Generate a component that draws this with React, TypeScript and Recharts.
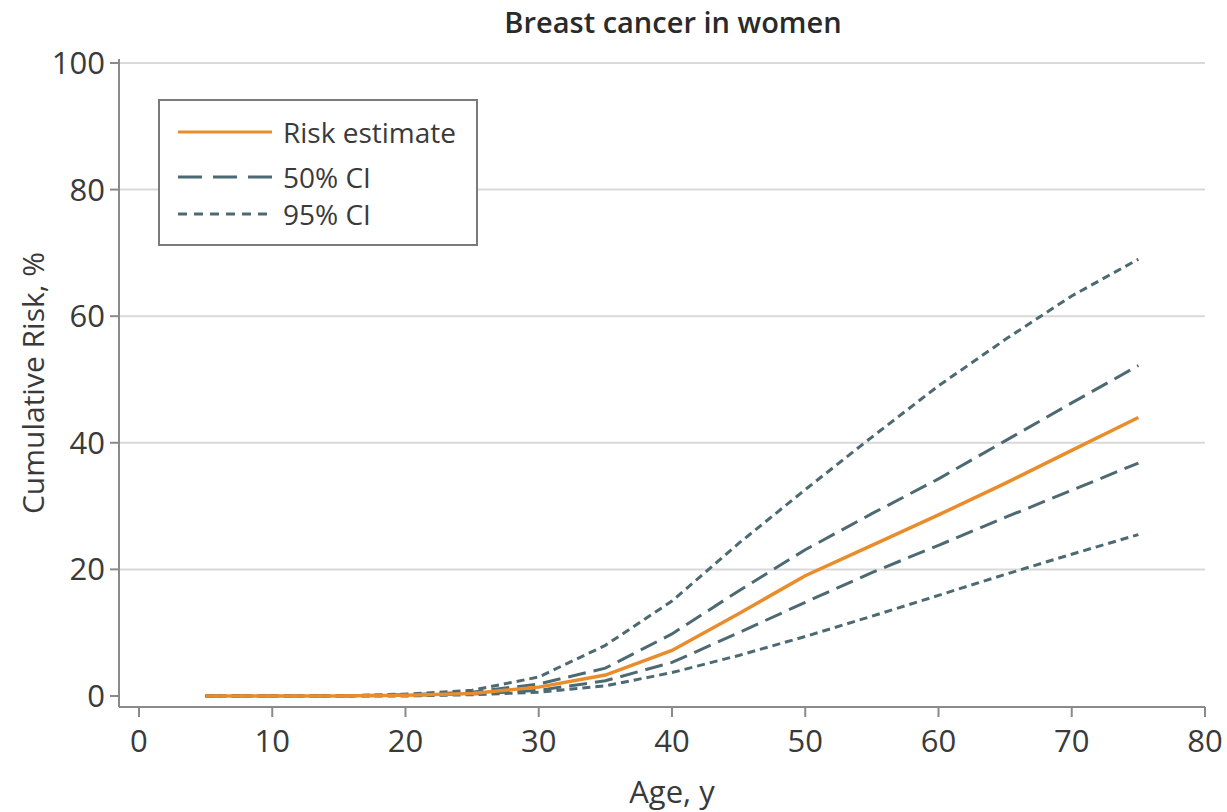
import React from 'react';
import { LineChart, Line, XAxis, YAxis, CartesianGrid, Legend, Label } from 'recharts';

const ages = [5, 10, 15, 20, 25, 30, 35, 40, 45, 50, 55, 60, 65, 70, 75];
const riskEstimate = [0, 0, 0, 0.1, 0.4, 1.4, 3.3, 7.2, 13.0, 19.0, 23.8, 28.6, 33.6, 38.8, 44.0];
const ci50Upper = [0, 0, 0, 0.2, 0.6, 1.9, 4.4, 9.8, 16.6, 23.1, 28.8, 34.3, 40.3, 46.3, 52.2];
const ci50Lower = [0, 0, 0, 0.1, 0.3, 0.9, 2.4, 5.3, 10.0, 14.8, 19.5, 23.8, 28.2, 32.5, 36.8];
const ci95Upper = [0, 0, 0, 0.3, 0.9, 3.0, 8.0, 15.0, 24.1, 32.6, 40.9, 49.0, 56.3, 63.2, 69.0];
const ci95Lower = [0, 0, 0, 0, 0.2, 0.6, 1.6, 3.7, 6.4, 9.4, 12.6, 15.9, 19.2, 22.4, 25.5];

const xTicks = [0, 10, 20, 30, 40, 50, 60, 70, 80];
const yTicks = [0, 20, 40, 60, 80, 100];
const gridValues = [20, 40, 60, 80, 100];

const legendItems = [
  { name: 'Risk estimate', color: '#e98d2c', dash: undefined },
  { name: '50% CI', color: '#4d6a73', dash: '24 11' },
  { name: '95% CI', color: '#4d6a73', dash: '9 7' },
];

const data = ages.map((age, i) => ({
  age,
  risk: riskEstimate[i],
  ci50Upper: ci50Upper[i],
  ci50Lower: ci50Lower[i],
  ci95Upper: ci95Upper[i],
  ci95Lower: ci95Lower[i],
}));

const FONT = '"Open Sans", "Noto Sans", sans-serif';
const TEXT = '#3a3a3a';
const AXIS = '#8a8a8a';
const ORANGE = '#e98d2c';
const SLATE = '#4d6a73';

const rowTops = [13, 58, 95];

const LegendBox = () => (
  <div
    style={{
      width: 320,
      height: 147,
      border: '2px solid #7a7a7a',
      background: '#fff',
      boxSizing: 'border-box',
      position: 'relative',
      fontFamily: FONT,
      fontSize: 28,
      color: TEXT,
    }}
  >
    {legendItems.map((item, i) => (
      <div
        key={item.name}
        style={{ position: 'absolute', left: 18, top: rowTops[i], height: 36, display: 'flex', alignItems: 'center' }}
      >
        <svg width={94} height={6}>
          <line x1={0} y1={3} x2={94} y2={3} stroke={item.color} strokeWidth={3} strokeDasharray={item.dash} />
        </svg>
        <span style={{ marginLeft: 11, lineHeight: '36px' }}>{item.name}</span>
      </div>
    ))}
  </div>
);

export default function App() {
  return (
    <div style={{ position: 'absolute', left: 0, top: 0, width: 1227, height: 812, background: '#fff' }}>
      <div
        style={{
          position: 'absolute',
          left: 473,
          top: 3,
          width: 400,
          textAlign: 'center',
          fontFamily: FONT,
          fontSize: 29,
          fontWeight: 600,
          color: '#2a2a2a',
          lineHeight: '38px',
        }}
      >
        Breast cancer in women
      </div>
      <LineChart width={1227} height={812} data={data} margin={{ top: 59, right: 22, bottom: 0, left: 0 }}>
        <CartesianGrid vertical={false} horizontalValues={gridValues} stroke="#d9d9d9" strokeWidth={2} />
        <XAxis
          dataKey="age"
          type="number"
          domain={[-1.5, 80]}
          ticks={xTicks}
          allowDataOverflow
          height={105}
          tickSize={10}
          tickMargin={13}
          stroke={AXIS}
          strokeWidth={2}
          tick={{ fill: TEXT, fontSize: 31, fontFamily: FONT }}
        >
          <Label
            content={() => (
              <text x={672} y={803} textAnchor="middle" fill={TEXT} fontSize={31} fontFamily={FONT}>
                Age, y
              </text>
            )}
          />
        </XAxis>
        <YAxis
          type="number"
          domain={[-1.74, 100.63]}
          ticks={yTicks}
          allowDataOverflow
          width={119}
          tickSize={9}
          tickMargin={5}
          stroke={AXIS}
          strokeWidth={2}
          tick={{ fill: TEXT, fontSize: 31, fontFamily: FONT }}
        >
          <Label
            content={() => (
              <text
                x={32}
                y={383}
                transform="rotate(-90, 32, 383)"
                textAnchor="middle"
                dominantBaseline="central"
                fill={TEXT}
                fontSize={30}
                fontFamily={FONT}
              >
                Cumulative Risk, %
              </text>
            )}
          />
        </YAxis>
        <Legend
          layout="vertical"
          align="center"
          verticalAlign="middle"
          wrapperStyle={{ left: 158, top: 99, width: 320 }}
          content={() => <LegendBox />}
        />
        <Line dataKey="ci95Upper" type="linear" stroke={SLATE} strokeWidth={3} strokeDasharray="8 5" dot={false} isAnimationActive={false} />
        <Line dataKey="ci95Lower" type="linear" stroke={SLATE} strokeWidth={3} strokeDasharray="8 5" dot={false} isAnimationActive={false} />
        <Line dataKey="ci50Upper" type="linear" stroke={SLATE} strokeWidth={3} strokeDasharray="18 8" dot={false} isAnimationActive={false} />
        <Line dataKey="ci50Lower" type="linear" stroke={SLATE} strokeWidth={3} strokeDasharray="18 8" dot={false} isAnimationActive={false} />
        <Line dataKey="risk" type="linear" stroke={ORANGE} strokeWidth={3.5} dot={false} isAnimationActive={false} />
      </LineChart>
    </div>
  );
}
